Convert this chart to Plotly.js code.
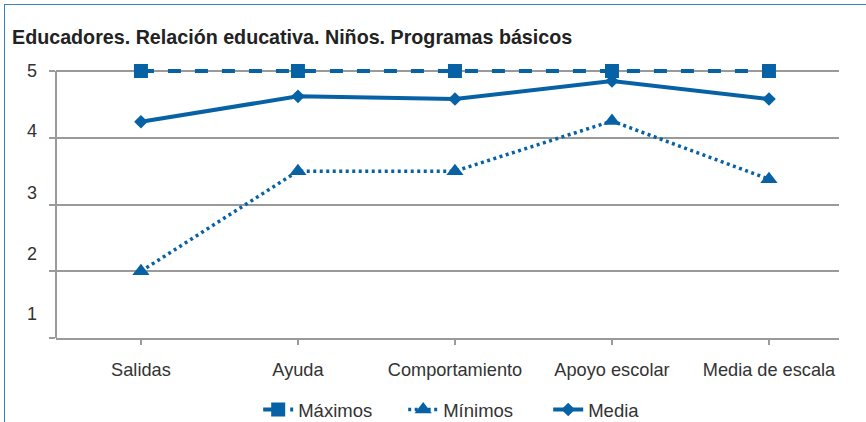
<!DOCTYPE html>
<html>
<head>
<meta charset="utf-8">
<script src="https://cdn.plot.ly/plotly-3.0.1.min.js"></script>
<style>
  html, body { margin: 0; padding: 0; background: #fff; overflow: hidden; }
  #chart { position: absolute; left: 0; top: 0; width: 866px; height: 422px; }
  #frame { position: absolute; left: 4px; top: 4px; width: 900px; height: 500px;
           border-left: 1.5px solid #3b82bf; border-top: 1.5px solid #3b82bf;
           pointer-events: none; }
</style>
</head>
<body>
<div id="chart"></div>
<div id="frame"></div>
<script>
const categories = ["Salidas", "Ayuda", "Comportamiento", "Apoyo escolar", "Media de escala"];
const maximos = [5, 5, 5, 5, 5];
const minimos = [2, 3.5, 3.5, 4.25, 3.38];
const media = [4.24, 4.62, 4.58, 4.85, 4.58];
const yGridVals = [1, 2, 3, 4, 5];
const yLabelVals = [5, 4.1, 3.17, 2.27, 1.37];
const yLabelText = ["5", "4", "3", "2", "1"];
const chartTitle = "Educadores. Relación educativa. Niños. Programas básicos";

const blue = "#0762a5";
const grey = "#9a9a9a";
const font = "Liberation Sans, Arial, sans-serif";

const traces = [
  { x: categories, y: maximos, name: "Máximos", type: "scatter", mode: "lines+markers",
    line: { color: blue, width: 4, dash: "13px,14px" },
    marker: { symbol: "square", size: 14, color: blue }, cliponaxis: false },
  { x: categories, y: minimos, name: "Mínimos", type: "scatter", mode: "lines+markers",
    line: { color: blue, width: 3.5, dash: "3px,3.5px" },
    marker: { symbol: "triangle-up", size: 15, color: blue }, cliponaxis: false },
  { x: categories, y: media, name: "Media", type: "scatter", mode: "lines+markers",
    line: { color: blue, width: 4 },
    marker: { symbol: "diamond", size: 10.5, color: blue }, cliponaxis: false },
  { x: categories, y: media, yaxis: "y2", showlegend: false, hoverinfo: "skip",
    type: "scatter", mode: "none" }
];

const layout = {
  width: 866, height: 422,
  paper_bgcolor: "#fff", plot_bgcolor: "#fff",
  margin: { l: 56, r: 27, t: 67, b: 84, pad: 0 },
  font: { family: font, size: 18, color: "#333" },
  title: { text: "<b>" + chartTitle + "</b>", font: { family: font, size: 19.7, color: "#222" },
           xref: "container", x: 12 / 866, xanchor: "left",
           yref: "container", y: 1 - 37 / 422, yanchor: "middle" },
  xaxis: { type: "category", range: [-0.541, 4.446], showgrid: false, zeroline: false,
           showline: true, linecolor: grey, linewidth: 2,
           ticks: "outside", ticklen: 5, tickwidth: 2, tickcolor: grey,
           ticklabelstandoff: 9, tickfont: { family: font, size: 18.2, color: "#333" } },
  yaxis: { range: [1, 5.06], tickmode: "array", tickvals: yGridVals, showticklabels: false,
           showgrid: true, gridcolor: grey, gridwidth: 2, zeroline: false,
           showline: false, ticks: "outside", ticklen: 6, tickwidth: 2, tickcolor: grey },
  yaxis2: { overlaying: "y", side: "left", range: [1, 5.06], tickmode: "array",
            tickvals: yLabelVals, ticktext: yLabelText, showgrid: false, zeroline: false,
            showline: false, ticks: "", ticklabelstandoff: 18,
            tickfont: { family: font, size: 18, color: "#333" } },
  shapes: [
    { type: "line", xref: "paper", yref: "y", x0: 0, x1: 0, y0: 1, y1: 5,
      line: { color: grey, width: 2 }, layer: "below" }
  ],
  legend: { orientation: "h", xref: "paper", x: 0.536, xanchor: "center",
            yref: "container", y: 12 / 422, yanchor: "middle",
            entrywidth: 100, entrywidthmode: "pixels",
            font: { family: font, size: 18.5, color: "#333" }, bgcolor: "rgba(0,0,0,0)" },
  showlegend: true
};

Plotly.newPlot("chart", traces, layout, { displayModeBar: false, staticPlot: true });
</script>
</body>
</html>
